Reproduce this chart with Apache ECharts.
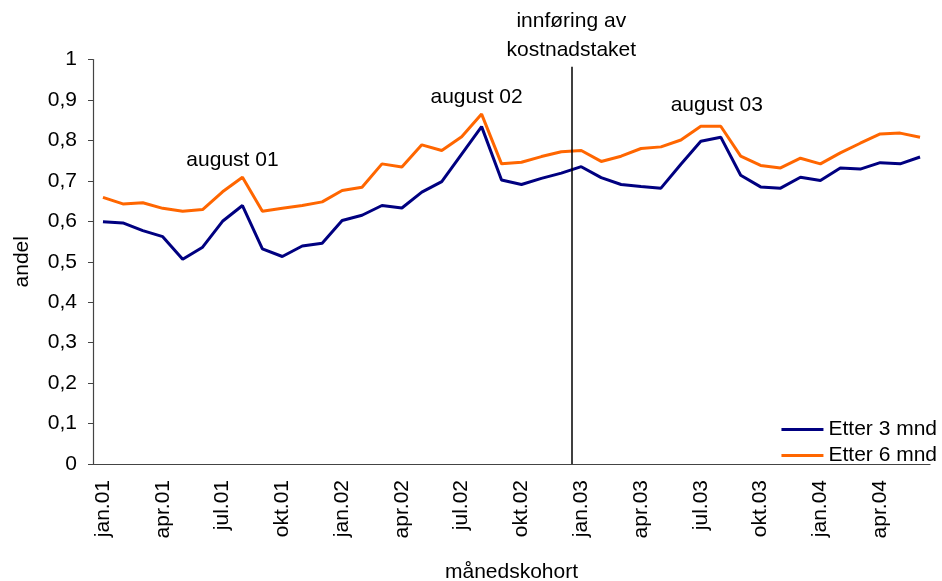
<!DOCTYPE html>
<html>
<head>
<meta charset="utf-8">
<script src="https://cdn.jsdelivr.net/npm/echarts@6/dist/echarts.min.js"></script>
<style>
  html, body { margin: 0; padding: 0; background: #fff; }
  #chart { width: 942px; height: 581px; }
</style>
</head>
<body>
<div id="chart"></div>
<script>
// månedskohorter jan.01 - jun.04
var months = ['jan','feb','mar','apr','mai','jun','jul','aug','sep','okt','nov','des'];
var categories = [];
for (var y = 1; y <= 4; y++) {
  for (var m = 0; m < 12; m++) {
    if (y == 4 && m > 5) break;
    categories.push(months[m] + '.0' + y);
  }
}

var etter3 = [0.599,0.596,0.577,0.562,0.506,0.536,0.600,0.639,0.532,0.513,0.539,0.546,
              0.602,0.615,0.639,0.633,0.672,0.698,0.766,0.834,0.702,0.691,0.706,0.719,
              0.735,0.708,0.691,0.686,0.682,0.741,0.798,0.808,0.714,0.685,0.682,0.709,
              0.701,0.732,0.729,0.745,0.742,0.759];
var etter6 = [0.659,0.643,0.646,0.632,0.625,0.629,0.673,0.709,0.625,0.632,0.639,0.648,
              0.676,0.684,0.742,0.734,0.789,0.775,0.809,0.865,0.742,0.746,0.760,0.772,
              0.775,0.748,0.761,0.780,0.784,0.801,0.835,0.835,0.761,0.738,0.732,0.756,
              0.742,0.769,0.793,0.816,0.818,0.808];

// merknader over toppene
var notes = [
  {cat: 'aug.01', text: 'august 01', offset: [-10, -17]},
  {cat: 'aug.02', text: 'august 02', offset: [-5, -17]},
  {cat: 'aug.03', text: 'august 03', offset: [-4, -21]}
];
var innforing = 24;     // jan.03, grense mellom des.02 og jan.03
var innforingTopp = 0.982; // linja slutter litt under 1

var font = 'Liberation Sans, Arial, sans-serif';
var chart = echarts.init(document.getElementById('chart'));

var markData = notes.map(function (n) {
  var idx = categories.indexOf(n.cat);
  return {
    coord: [n.cat, etter6[idx]],
    label: {show: true, formatter: n.text, offset: n.offset, position: 'inside'}
  };
});

chart.setOption({
  animation: false,
  textStyle: {fontFamily: font, color: '#000'},
  grid: {left: 93, right: 12, top: 59.5, bottom: 117, outerBoundsMode: 'none', containLabel: false},
  legend: {
    orient: 'vertical',
    right: 0,
    top: 414,
    icon: 'rect',
    itemWidth: 42,
    itemHeight: 3,
    itemGap: 5,
    data: ['Etter 3 mnd', 'Etter 6 mnd'],
    textStyle: {fontSize: 21, color: '#000', fontFamily: font}
  },
  xAxis: [{
    type: 'category',
    data: categories,
    boundaryGap: true,
    name: 'månedskohort',
    nameLocation: 'middle',
    nameGap: 98,
    nameTextStyle: {fontSize: 21, color: '#000'},
    axisLine: {lineStyle: {color: '#444', width: 1.2}},
    axisTick: {interval: 2, length: 5, lineStyle: {color: '#444'}},
    axisLabel: {interval: 2, rotate: 90, margin: 16, fontSize: 21, color: '#000'},
    splitLine: {show: false}
  }, {
    type: 'value',
    min: 0,
    max: categories.length,
    show: false
  }],
  yAxis: {
    type: 'value',
    min: 0,
    max: 1,
    interval: 0.1,
    name: 'andel',
    nameLocation: 'middle',
    nameGap: 60,
    nameTextStyle: {fontSize: 21, color: '#000'},
    axisLine: {show: true, lineStyle: {color: '#444', width: 1.2}},
    axisTick: {show: true, length: 5, lineStyle: {color: '#444'}},
    axisLabel: {
      fontSize: 21, color: '#000', margin: 16,
      formatter: function (v) {
        if (v == 0 || v == 1) return String(v);
        return v.toFixed(1).replace('.', ',');
      }
    },
    splitLine: {show: false}
  },
  series: [{
    name: 'Etter 3 mnd',
    type: 'line',
    data: etter3,
    symbol: 'none',
    itemStyle: {color: '#000080'},
    lineStyle: {color: '#000080', width: 3}
  }, {
    name: 'Etter 6 mnd',
    type: 'line',
    data: etter6,
    symbol: 'none',
    itemStyle: {color: '#FF6600'},
    lineStyle: {color: '#FF6600', width: 3},
    markPoint: {
      symbol: 'circle',
      symbolSize: 1,
      itemStyle: {color: 'rgba(0,0,0,0)'},
      label: {fontSize: 21, color: '#000', fontFamily: font},
      data: markData
    }
  }, {
    name: 'kostnadstak',
    type: 'line',
    xAxisIndex: 1,
    data: [],
    markLine: {
      silent: true,
      symbol: 'none',
      lineStyle: {color: '#000', width: 1.5, type: 'solid'},
      label: {
        show: true,
        position: 'end',
        distance: 2,
        formatter: 'innføring av\nkostnadstaket',
        fontSize: 21,
        lineHeight: 29,
        color: '#000',
        fontFamily: font
      },
      data: [[{coord: [innforing, 0]}, {coord: [innforing, innforingTopp]}]]
    }
  }]
});
</script>
</body>
</html>
